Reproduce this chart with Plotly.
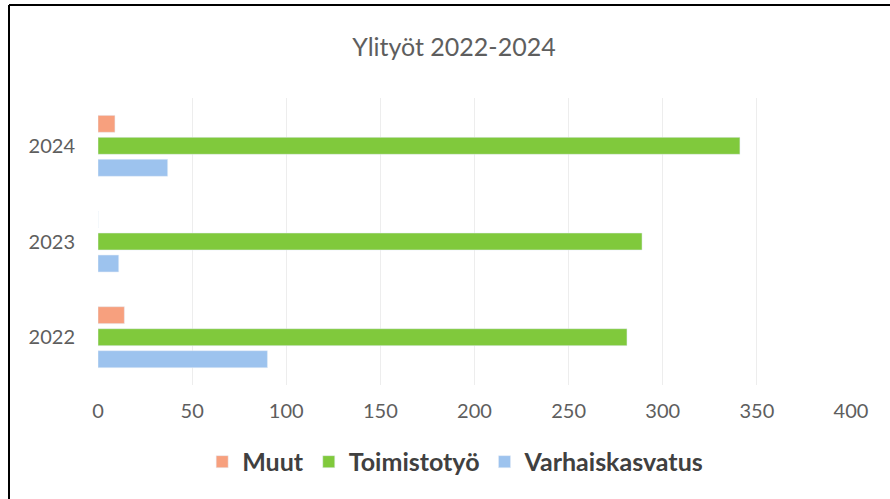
import plotly.graph_objects as go

years = ["2022", "2023", "2024"]
muut = [14, 0, 9]
toimistotyo = [281, 289, 341]
varhaiskasvatus = [90, 11, 37]

x_ticks = [0, 50, 100, 150, 200, 250, 300, 350, 400]

FONT = "Lato, 'Open Sans', sans-serif"
GREY = "#5E5E5E"

fig = go.Figure()

# plotly stacks horizontal groups bottom-up, so add in reverse to get Muut on top
fig.add_trace(go.Bar(y=years, x=varhaiskasvatus, name="Varhaiskasvatus",
                     orientation="h", marker_color="#9DC3EE"))
fig.add_trace(go.Bar(y=years, x=toimistotyo, name="Toimistotyö",
                     orientation="h", marker_color="#80C93C"))
fig.add_trace(go.Bar(y=years, x=muut, name="Muut",
                     orientation="h", marker_color="#F7A07E"))

fig.update_layout(
    width=890,
    height=499,
    margin={"l": 98, "r": 39, "t": 98, "b": 114},
    paper_bgcolor="white",
    plot_bgcolor="white",
    font={"family": FONT, "color": GREY, "size": 20},
    title={"text": "Ylityöt 2022-2024", "x": 0.51, "xanchor": "center",
           "y": 0.905, "yanchor": "middle",
           "font": {"size": 25, "color": GREY}},
    barmode="group",
    bargap=0.31,
    bargroupgap=0.23,
    legend={"orientation": "h", "traceorder": "reversed",
            "x": 0.475, "xanchor": "center", "y": -0.268, "yanchor": "middle",
            "font": {"size": 25, "color": "#404040", "weight": "bold"},
            "itemwidth": 30},
    xaxis={"range": [0, 400], "tickvals": x_ticks, "showgrid": True,
           "gridcolor": "#EDEDED", "gridwidth": 1, "zeroline": False,
           "showline": False, "ticklabelstandoff": 12, "fixedrange": True},
    yaxis={"showgrid": False, "zeroline": False, "showline": False,
           "ticklabelstandoff": 22, "type": "category"},
    shapes=[
        # frame edges visible in the scan (top and left); run past the page edge
        {"type": "line", "xref": "paper", "yref": "paper",
         "x0": (9 - 98) / 753, "x1": (920 - 98) / 753,
         "y0": (385 - 5) / 287, "y1": (385 - 5) / 287,
         "line": {"color": "black", "width": 2}},
        {"type": "line", "xref": "paper", "yref": "paper",
         "x0": (9 - 98) / 753, "x1": (9 - 98) / 753,
         "y0": (385 - 5) / 287, "y1": (385 - 530) / 287,
         "line": {"color": "black", "width": 2}},
    ],
)

# drop the browser's default body margin so the figure sits at the window origin
fig.write_html("out.html", config={"displayModeBar": False},
               post_script="document.body.style.margin='0';")
